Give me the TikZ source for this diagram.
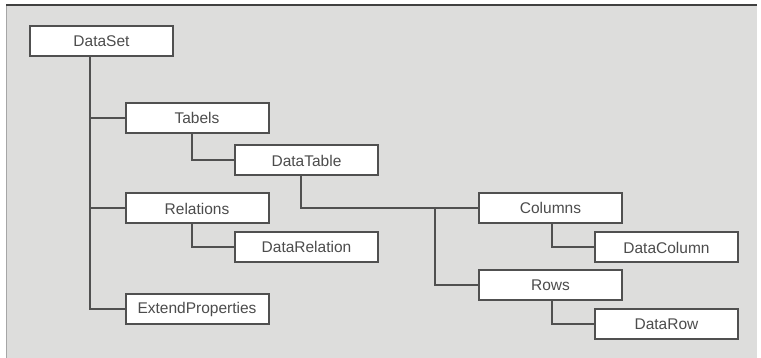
\documentclass[tikz,border=0pt]{standalone}
\usepackage{fontspec}
\setmainfont{Liberation Sans}
\usepackage{xcolor}
\usepackage{tikz}
\usetikzlibrary{positioning}

\definecolor{panel}{HTML}{DDDDDC}
\definecolor{boxline}{HTML}{505050}
\definecolor{boxtext}{HTML}{4C4C4C}

\begin{document}
\begin{tikzpicture}[x=1pt,y=-1pt,on grid,line width=2pt]
	    	\tikzstyle{class}=[draw=boxline,fill=white,minimum width=143pt,minimum height=30pt,
	    	  inner sep=0pt,text=boxtext,font=\fontsize{15.5}{18}\selectfont]
	    	\tikzstyle{link}=[draw=boxline,line width=2pt]

	    % panel
	    \useasboundingbox (0,0) rectangle (761,358);
	    \fill[panel] (6,5) rectangle (757,358);
	    \draw[gray!70,line width=1pt] (6.5,358) -- (6.5,5);
	    \draw[black!75,line width=2.2pt] (6,5) -- (757,5);

	    \node[class] (DataSet)          at (101.5,41.5)                            {DataSet};
	    \node[class] (Tabels)           [below right=76.5pt and 95.5pt of DataSet] {Tabels};
	    \node[class] (DataTable)        [below right=42.5pt and 109.5pt of Tabels] {DataTable};
	    \node[class] (Relations)        [below=90.5pt of Tabels]                   {Relations};
	    \node[class] (DataRelation)     [below right=38.5pt and 109.5pt of Relations] {DataRelation};
	    \node[class] (ExtendProperties) [below=101pt of Relations]                 {ExtendProperties};
	    \node[class] (Columns)          [below right=47.5pt and 244pt of DataTable] {Columns};
	    \node[class] (DataColumn)       [below right=39.5pt and 116pt of Columns]  {DataColumn};
	    \node[class] (Rows)             [below=77pt of Columns]                    {Rows};
	    \node[class] (DataRow)          [below right=39.5pt and 116pt of Rows]     {DataRow};

	    \path (Columns.west) ++(-43pt,0pt) coordinate (split);

	    \path[link]
	    ([xshift=-11.5pt]DataSet.south) edge[to path={|- (\tikztotarget)}] (Tabels.west)
	                                    edge[to path={|- (\tikztotarget)}] (Relations.west)
	                                    edge[to path={|- (\tikztotarget)}] (ExtendProperties.west)
	    ([xshift=-5pt]Tabels.south)     edge[to path={|- (\tikztotarget)}] (DataTable.west)
	    ([xshift=-5pt]Relations.south)  edge[to path={|- (\tikztotarget)}] (DataRelation.west)
	    ([xshift=-5.5pt]DataTable.south) edge[to path={|- (\tikztotarget)}] (Columns.west)
	    (split)                         edge[to path={|- (\tikztotarget)}] (Rows.west)
	    ([xshift=1.5pt]Columns.south)   edge[to path={|- (\tikztotarget)}] (DataColumn.west)
	    ([xshift=1.5pt]Rows.south)      edge[to path={|- (\tikztotarget)}] (DataRow.west);

	    	\end{tikzpicture}
\end{document}
